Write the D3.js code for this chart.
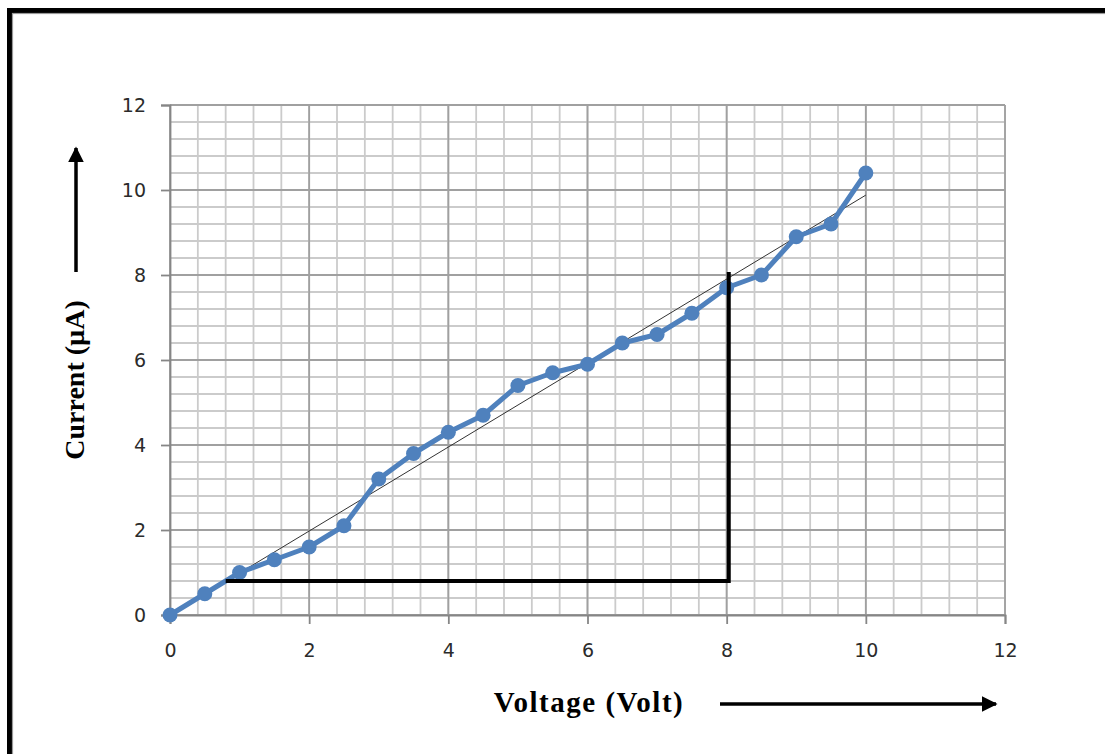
<!DOCTYPE html>
<html>
<head>
<meta charset="utf-8">
<script src="https://cdn.jsdelivr.net/npm/d3@7"></script>
<style>
  body { margin: 0; background: #fff; }
</style>
</head>
<body>
<script>
// readings
const voltage = [0, 0.5, 1, 1.5, 2, 2.5, 3, 3.5, 4, 4.5, 5, 5.5, 6, 6.5, 7, 7.5, 8, 8.5, 9, 9.5, 10];
const current = [0, 0.5, 1, 1.3, 1.6, 2.1, 3.2, 3.8, 4.3, 4.7, 5.4, 5.7, 5.9, 6.4, 6.6, 7.1, 7.7, 8.0, 8.9, 9.2, 10.4];
const trend = [[0, 0], [10, 9.88]];
const slopeTriangle = [[0.8, 0.8], [8.03, 0.8], [8.03, 8.07]];
const tickValues = [0, 2, 4, 6, 8, 10, 12];

const W = 1105, H = 754;
const margin = {top: 105, right: 100, bottom: 139, left: 170};
const width = W - margin.left - margin.right,
      height = H - margin.top - margin.bottom;

const svg = d3.select("body").append("svg")
  .attr("width", W).attr("height", H);

// page frame
svg.append("rect").attr("x", 9.5).attr("y", 10.5).attr("width", W + 20).attr("height", H + 20)
  .attr("fill", "none").attr("stroke", "#000").attr("stroke-width", 5);
svg.append("rect").attr("x", 12.5).attr("y", 13.5).attr("width", W + 20).attr("height", H + 20)
  .attr("fill", "none").attr("stroke", "#999").attr("stroke-width", 1.2);

const g = svg.append("g").attr("transform", `translate(${margin.left},${margin.top})`);

const x = d3.scaleLinear().domain([0, 12]).range([0, width]);
const y = d3.scaleLinear().domain([0, 12]).range([height, 0]);

// minor grid every 0.4
const minor = d3.range(0, 12.01, 0.4).map(d => +d.toFixed(1));
g.append("g").selectAll("line").data(minor).enter().append("line")
  .attr("x1", d => x(d)).attr("x2", d => x(d)).attr("y1", 0).attr("y2", height)
  .attr("stroke", "#cbcbcb").attr("stroke-width", 1.8);
g.append("g").selectAll("line").data(minor).enter().append("line")
  .attr("y1", d => y(d)).attr("y2", d => y(d)).attr("x1", 0).attr("x2", width)
  .attr("stroke", "#cbcbcb").attr("stroke-width", 1.8);

// major grid
g.append("g").selectAll("line").data(tickValues).enter().append("line")
  .attr("x1", d => x(d)).attr("x2", d => x(d)).attr("y1", 0).attr("y2", height)
  .attr("stroke", "#a0a0a0").attr("stroke-width", 1.8);
g.append("g").selectAll("line").data(tickValues).enter().append("line")
  .attr("y1", d => y(d)).attr("y2", d => y(d)).attr("x1", 0).attr("x2", width)
  .attr("stroke", "#a0a0a0").attr("stroke-width", 1.8);

// axes
const axeX = d3.axisBottom(x).tickValues(tickValues).tickSize(9).tickPadding(20);
const axeY = d3.axisLeft(y).tickValues(tickValues).tickSize(9).tickPadding(15);

const gx = g.append("g").attr("transform", `translate(0,${height})`).call(axeX);
const gy = g.append("g").call(axeY);
[gx, gy].forEach(a => {
  a.select(".domain").attr("stroke", "#868686").attr("stroke-width", 1.8);
  a.selectAll(".tick line").attr("stroke", "#868686").attr("stroke-width", 1.8);
  a.selectAll("text").attr("fill", "#2b2b2b").style("font-family", "'DejaVu Sans', sans-serif").style("font-size", "19px");
});

// trend line
g.append("line")
  .attr("x1", x(trend[0][0])).attr("y1", y(trend[0][1]))
  .attr("x2", x(trend[1][0])).attr("y2", y(trend[1][1]))
  .attr("stroke", "#333").attr("stroke-width", 1);

// data series
const pts = voltage.map((v, i) => [v, current[i]]);
const line = d3.line().x(d => x(d[0])).y(d => y(d[1]));
g.append("path").datum(pts).attr("d", line)
  .attr("fill", "none").attr("stroke", "#4f81bd").attr("stroke-width", 5).attr("stroke-linejoin", "round");
g.selectAll("circle").data(pts).enter().append("circle")
  .attr("cx", d => x(d[0])).attr("cy", d => y(d[1])).attr("r", 7.5)
  .attr("fill", "#4f81bd");

// slope triangle
g.append("path").datum(slopeTriangle).attr("d", line)
  .attr("fill", "none").attr("stroke", "#000").attr("stroke-width", 4).attr("stroke-linejoin", "miter");

// labels
svg.append("text")
  .attr("transform", "translate(84,380) rotate(-90)")
  .attr("text-anchor", "middle")
  .style("font-family", "'Liberation Serif', 'Times New Roman', serif")
  .style("font-weight", "bold").style("font-size", "28px")
  .text("Current (µA)");
svg.append("text")
  .attr("x", 589).attr("y", 712)
  .attr("text-anchor", "middle")
  .style("font-family", "'Liberation Serif', 'Times New Roman', serif")
  .style("font-weight", "bold").style("font-size", "29px").style("letter-spacing", "1.5px")
  .text("Voltage (Volt)");

// arrows
const defs = svg.append("defs");
defs.append("marker").attr("id", "head").attr("viewBox", "0 0 10 10")
  .attr("refX", 9).attr("refY", 5).attr("markerWidth", 4.5).attr("markerHeight", 4.5)
  .attr("markerUnits", "strokeWidth").attr("orient", "auto")
  .append("path").attr("d", "M0,0 L10,5 L0,10 Z").attr("fill", "#000");

svg.append("line").attr("x1", 76).attr("y1", 272).attr("x2", 76).attr("y2", 148)
  .attr("stroke", "#000").attr("stroke-width", 3.5).attr("marker-end", "url(#head)");
svg.append("line").attr("x1", 720).attr("y1", 704).attr("x2", 996).attr("y2", 704)
  .attr("stroke", "#000").attr("stroke-width", 3.5).attr("marker-end", "url(#head)");
</script>
</body>
</html>
